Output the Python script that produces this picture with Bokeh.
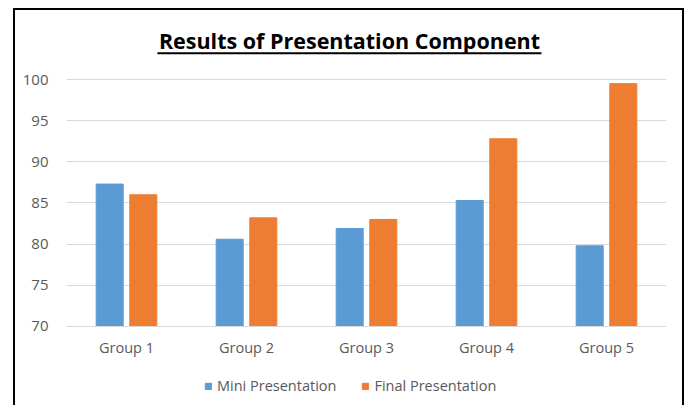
from bokeh.plotting import figure
from bokeh.models import ColumnDataSource, Legend, LegendItem, FactorRange, BoxAnnotation, Label
from bokeh.transform import dodge
from bokeh.embed import file_html
from bokeh.resources import INLINE

groups = ["Group 1", "Group 2", "Group 3", "Group 4", "Group 5"]
mini = [87.3, 80.6, 81.9, 85.3, 79.8]
final = [86.0, 83.2, 83.0, 92.8, 99.5]
series_names = ["Mini Presentation", "Final Presentation"]
yticks = [70, 75, 80, 85, 90, 95, 100]
title_text = "Results of Presentation Component"

BLUE = "#5B9BD5"
ORANGE = "#ED7D31"
FONT = "Open Sans"

src = ColumnDataSource(dict(groups=groups, mini=mini, final=final, base=[70] * len(groups)))

p = figure(x_range=FactorRange(*groups, range_padding=0), y_range=(60.4, 108.385),
           frame_width=600, frame_height=395, output_backend="svg", toolbar_location=None,
           min_border_left=51, min_border_right=16, min_border_top=0, min_border_bottom=0,
           margin=(8, 0, 0, 13))

r1 = p.vbar(x=dodge("groups", -0.14, range=p.x_range), top="mini", bottom="base", width=0.225,
            source=src, color=BLUE)
r2 = p.vbar(x=dodge("groups", 0.14, range=p.x_range), top="final", bottom="base", width=0.225,
            source=src, color=ORANGE)

title = Label(x=2.358, y=104.74, text=title_text, text_align="center", text_baseline="alphabetic",
              text_font=FONT, text_font_size="21.5px", text_font_style="bold", text_color="#000000")
p.add_layout(title)
underline = BoxAnnotation(left=0.758, right=3.958, top=103.30, bottom=103.06,
                          fill_color="black", fill_alpha=1, line_color=None)
p.add_layout(underline)

p.outline_line_color = None
p.xgrid.grid_line_color = None
p.ygrid.grid_line_color = "#D9D9D9"
p.ygrid.grid_line_width = 1
p.yaxis.ticker = yticks
p.yaxis.axis_line_color = None
p.yaxis.major_tick_line_color = None
p.yaxis.minor_tick_line_color = None
p.yaxis.major_label_text_font = FONT
p.yaxis.major_label_text_font_size = "15px"
p.yaxis.major_label_text_color = "#595959"
p.yaxis.major_label_standoff = 12

p.xaxis.fixed_location = 70
p.xaxis.axis_line_color = "#D9D9D9"
p.xaxis.major_tick_line_color = None
p.xaxis.minor_tick_line_color = None
p.xaxis.major_label_text_font = FONT
p.xaxis.major_label_text_font_size = "14.5px"
p.xaxis.major_label_text_color = "#595959"
p.xaxis.major_label_standoff = 6

legend = Legend(items=[LegendItem(label=series_names[0], renderers=[r1]),
                       LegendItem(label=series_names[1], renderers=[r2])],
                orientation="horizontal", location=(138, 10),
                label_text_font=FONT, label_text_font_size="14.5px", label_text_color="#595959",
                glyph_width=8, glyph_height=8, spacing=25, label_standoff=5,
                padding=0, margin=0, border_line_color=None,
                background_fill_alpha=0)
p.add_layout(legend, "center")

p.styles = {"border": "2px solid black"}

open("out.html", "w").write(file_html(p, INLINE))
